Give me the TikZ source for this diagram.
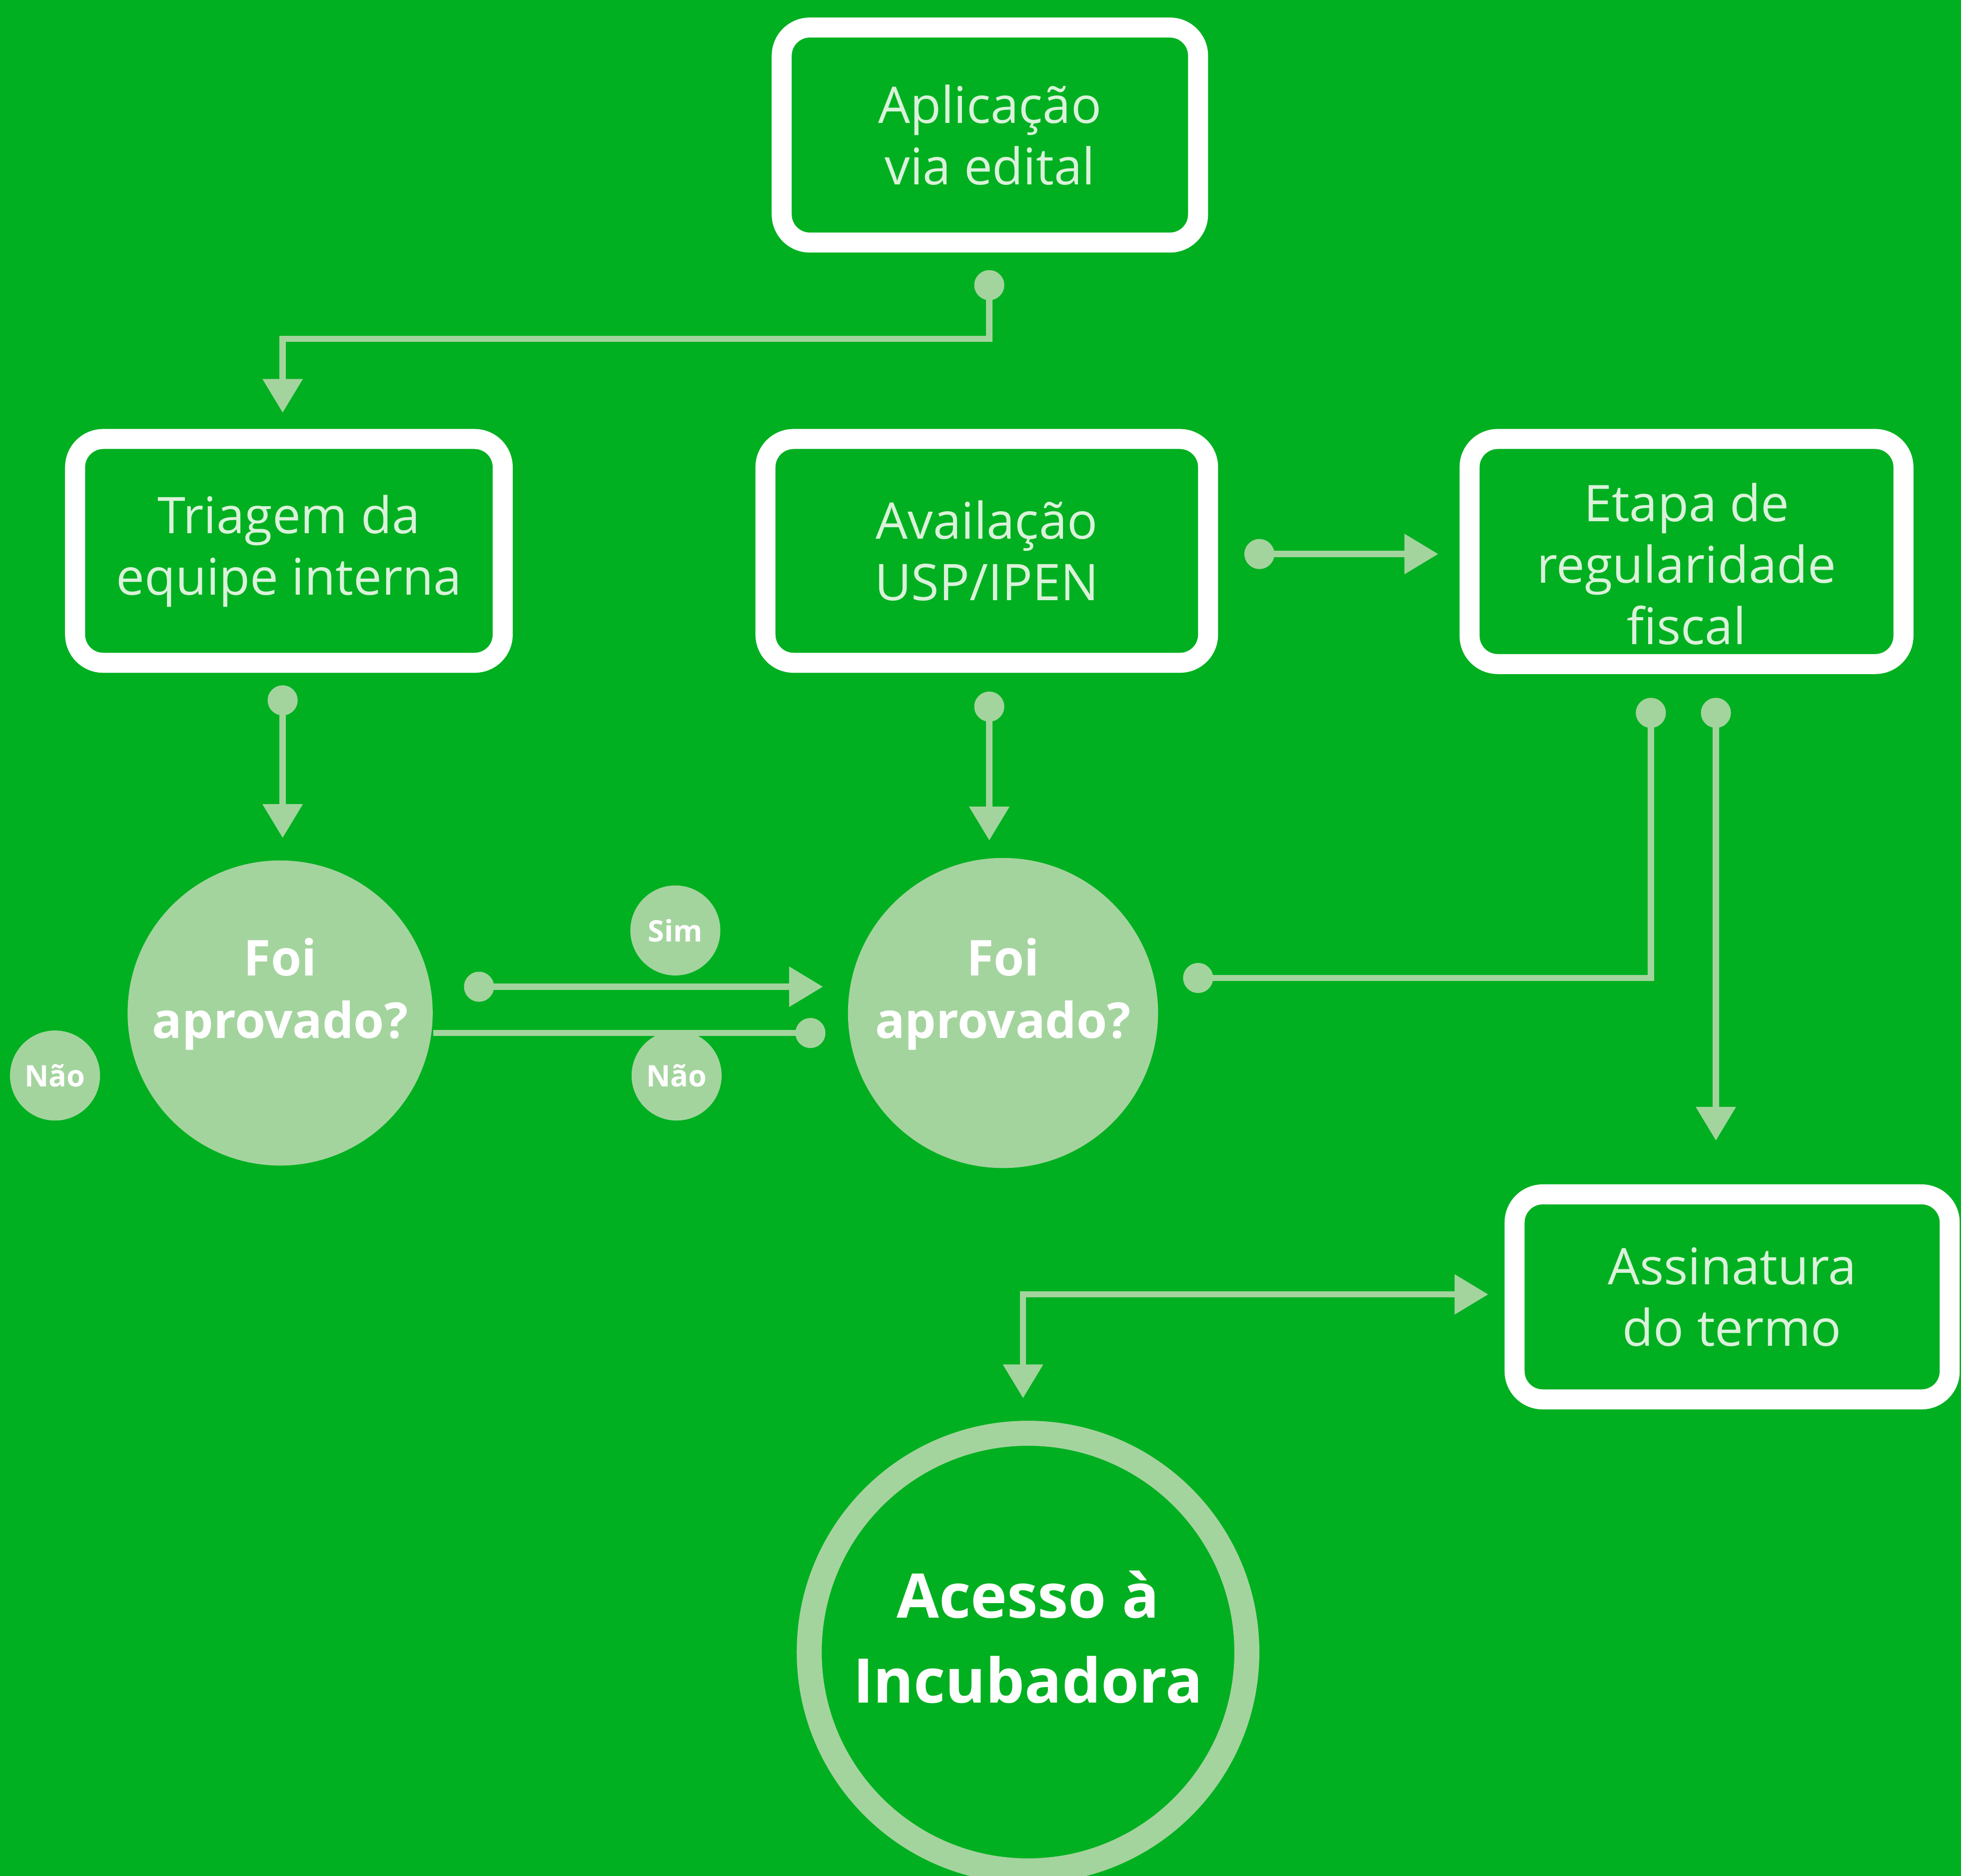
\documentclass[tikz,border=0pt]{standalone}
\usepackage{fontspec}
\setmainfont{Open Sans}
\usetikzlibrary{arrows.meta,calc}
\definecolor{bg}{RGB}{0,176,32}
\definecolor{lg}{RGB}{164,212,158}
\definecolor{bt}{RGB}{218,242,218}
\begin{document}
\begin{tikzpicture}[x=0.02cm,y=-0.02cm,
  box/.style={draw=white, line width=0.32cm, rounded corners=0.45cm, align=center, text=bt, font=\fontsize{23}{28}\selectfont, inner sep=0pt},
  btxt/.style={align=center, text=bt, font=\fontsize{23}{28}\selectfont, inner sep=0pt},
  qcirc/.style={circle, fill=lg, inner sep=0pt},
  qtxt/.style={align=center, text=white, font=\bfseries\fontsize{22.5}{28.5}\selectfont, inner sep=0pt},
  stxt/.style={circle, fill=lg, inner sep=0pt, minimum size=1.44cm, text=white, font=\bfseries\fontsize{13.5}{15}\selectfont},
  conn/.style={draw=lg, line width=0.1cm},
  arr/.style={-{Triangle[length=0.54cm,width=0.62cm]}},
  dbl/.style={{Triangle[length=0.54cm,width=0.62cm]}-{Triangle[length=0.54cm,width=0.62cm]}}
]
\useasboundingbox (0,0) rectangle (1568,1500);
\fill[bg] (0,0) rectangle (1568,1500);

% boxes
\node[box, minimum width=6.66cm, minimum height=3.44cm] (b1) at (791.5,108) {Aplicação\\via edital};
\node[box, minimum width=6.84cm, minimum height=3.58cm] (b2) at (231,440.5) {Triagem da\\equipe interna};
\node[box, minimum width=7.08cm, minimum height=3.58cm] (b3) at (789,440.5) {Availação\\USP/IPEN};
\node[box, minimum width=6.94cm, minimum height=3.6cm] (b4) at (1348.5,441) {};
\node[btxt] (b4t) at (1348.5,451) {Etapa de\\regularidade\\fiscal};
\node[box, minimum width=6.96cm, minimum height=3.28cm] (b5) at (1385,1037) {Assinatura\\do termo};

% decision circles
\node[qcirc, minimum size=4.88cm] (q1) at (224,810) {};
\node[qtxt] (q1t) at (224,795) {Foi\\aprovado?};
\node[qcirc, minimum size=4.96cm] (q2) at (802,810) {};
\node[qtxt] (q2t) at (802,795) {Foi\\aprovado?};

\node[stxt] (sim) at (540,744) {Sim};
\node[stxt] (nao1) at (541,860) {Não};
\node[stxt] (nao0) at (44,860) {Não};

% final circle
\node[circle, draw=lg, line width=0.4cm, minimum size=7cm, inner sep=0pt] (acc) at (822,1321) {};
\node[align=center, text=white, font=\bfseries\fontsize{28}{38.7}\selectfont, inner sep=0pt] (acct) at (822,1309) {Acesso à\\Incubadora};

% connector points
\coordinate (d1) at (791,228);
\coordinate (k1) at (791,271);
\coordinate (t1) at (226,330);
\coordinate (d2) at (226,560);
\coordinate (t2) at (226,670);
\coordinate (d3) at (791,565);
\coordinate (t3) at (791,672);
\coordinate (d4) at (1007,443);
\coordinate (t4) at (1150,443);
\coordinate (d5) at (383,789);
\coordinate (t5) at (658,789);
\coordinate (d6) at (648,826);
\coordinate (d7a) at (958,782);
\coordinate (d7b) at (1320,570);
\coordinate (d8) at (1372,570);
\coordinate (t8) at (1372,912);
\coordinate (t9a) at (1190,1035);
\coordinate (t9b) at (818,1118);

% connectors
\draw[conn, arr] (d1) -- (k1) -| (t1);
\draw[conn, arr] (d2) -- (t2);
\draw[conn, arr] (d3) -- (t3);
\draw[conn, arr] (d4) -- (t4);
\draw[conn, arr] (d5) -- (t5);
\draw[conn] (q1.east |- d6) -- (d6);
\draw[conn] (d7a) -| (d7b);
\draw[conn, arr] (d8) -- (t8);
\draw[conn, dbl] (t9a) -| (t9b);

\foreach \p in {d1,d2,d3,d4,d5,d6,d7a,d7b,d8}
  \fill[lg] (\p) circle (0.24cm);
\end{tikzpicture}
\end{document}
